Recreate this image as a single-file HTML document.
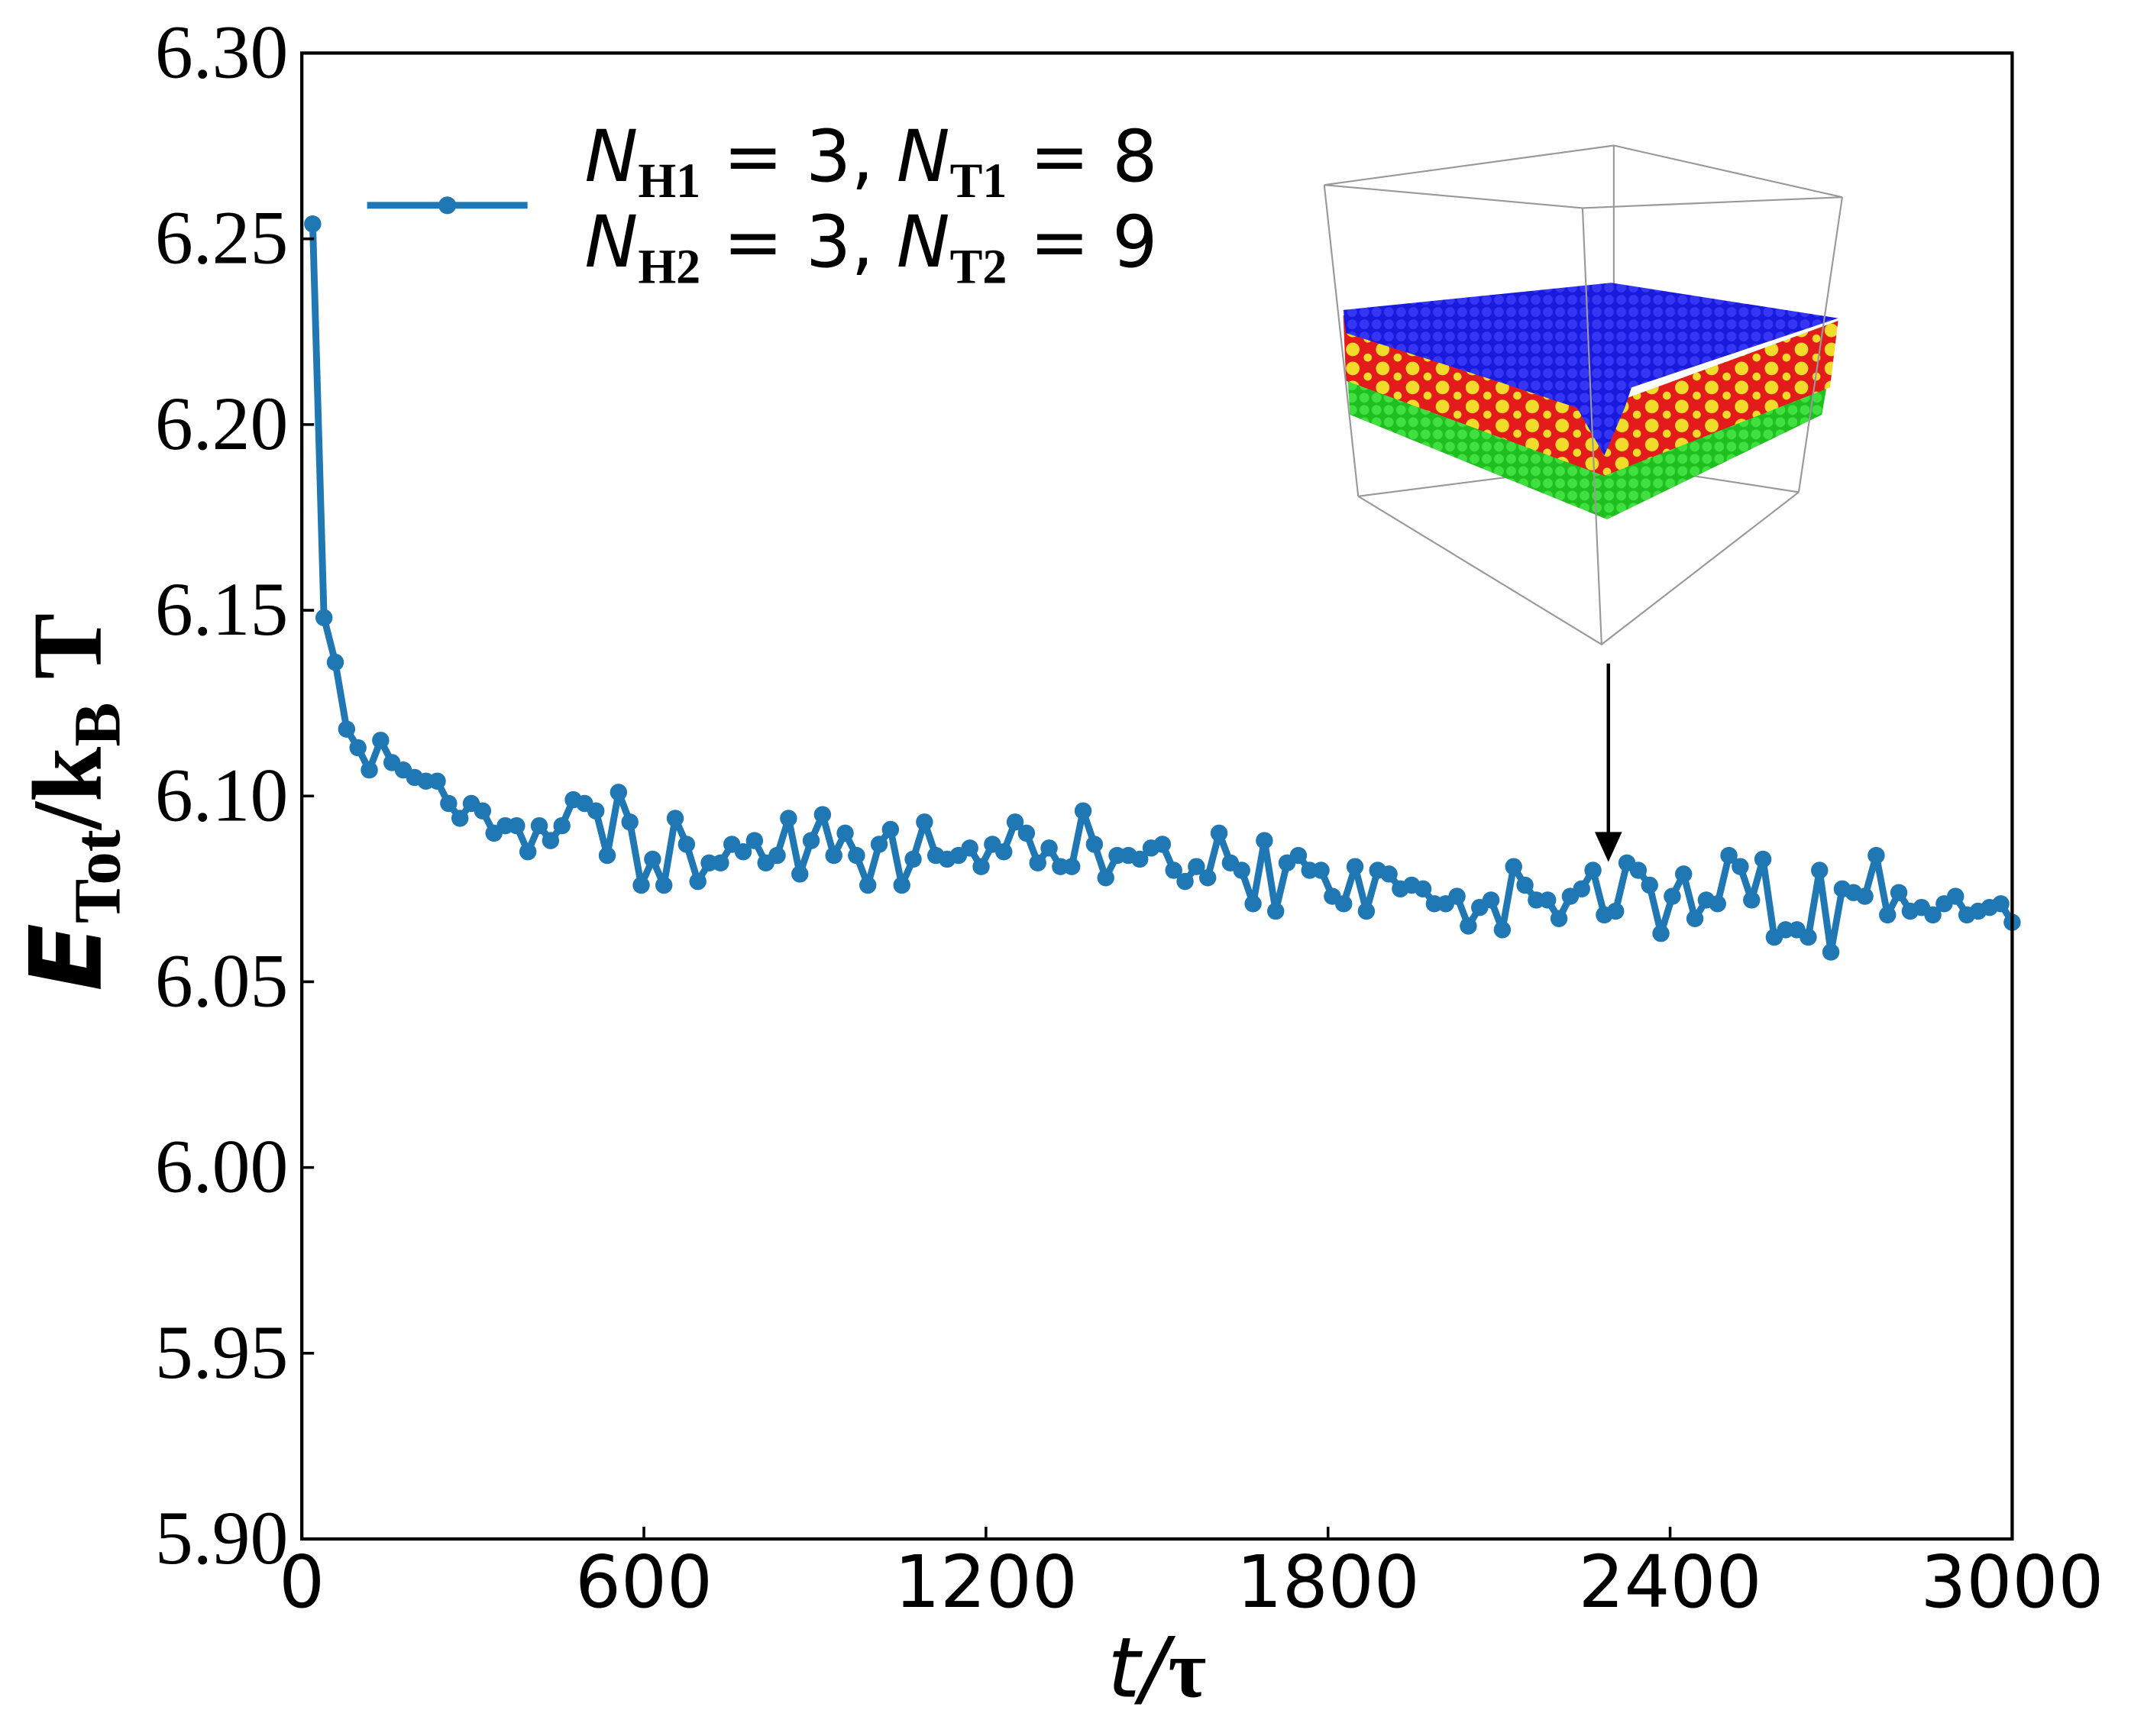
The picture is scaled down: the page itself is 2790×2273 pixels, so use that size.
<!DOCTYPE html>
<html><head><meta charset="utf-8"><style>
html,body{margin:0;padding:0;background:#fff;}
svg{display:block;}
</style></head><body>
<svg id="chart" xmlns="http://www.w3.org/2000/svg" width="2790" height="2273" viewBox="0 0 1567.4 1276.9">
<rect width="1567.4" height="1276.9" fill="#fff"/>
<g id="inset">
  <defs>
    <pattern id="dotsB" width="9" height="9" patternUnits="userSpaceOnUse"><rect width="9" height="9" fill="#1a1adf"/><circle cx="4.5" cy="4.5" r="3.6" fill="#3535f5"/></pattern>
    <pattern id="dotsRY" width="22" height="14" patternUnits="userSpaceOnUse"><rect width="22" height="14" fill="#e41b1b"/><circle cx="5" cy="5" r="5" fill="#f2dc2a"/><circle cx="16" cy="11" r="3" fill="#f2dc2a"/></pattern>
    <pattern id="dotsG" width="9" height="9" patternUnits="userSpaceOnUse"><rect width="9" height="9" fill="#1fbf1f"/><circle cx="4.5" cy="4.5" r="3.6" fill="#3fe03f"/></pattern>
  </defs>
  <g stroke="#999" stroke-width="1.2" fill="none">
    <polyline points="974,136 1187,107 1355,145"/>
    <line x1="1187" y1="107" x2="1187" y2="341"/>
    <line x1="999" y1="365" x2="1187" y2="341"/>
    <line x1="1323" y1="362" x2="1187" y2="341"/>
  </g>
  <polygon points="988,232 1177,300 1352,236 1340,305 1182,382 993,305" fill="url(#dotsG)"/>
  <polygon points="988,232 1177,300 1352,236 1346,285 1180,350 990,280" fill="url(#dotsRY)"/>
  <polygon points="988,228 1185,208 1352,234 1200,285 1195,300 1180,335 1160,300 1100,280 990,245" fill="url(#dotsB)"/>
  <g stroke="#999" stroke-width="1.2" fill="none">
    <polyline points="974,136 1164,153 1355,145"/>
    <line x1="974" y1="136" x2="999" y2="365"/>
    <line x1="1355" y1="145" x2="1323" y2="362"/>
    <polyline points="999,365 1178,474 1323,362"/>
    <line x1="1164" y1="153" x2="1178" y2="474"/>
  </g>
</g>
<g id="arrow">
  <line x1="1183" y1="488" x2="1183" y2="615" stroke="#000" stroke-width="2.5"/>
  <polygon points="1173,612 1193,612 1183,634" fill="#000"/>
</g>
<g id="series"></g>
<rect x="222" y="39" width="1258" height="1093" fill="none" stroke="#000" stroke-width="2.4"/>
<g id="yticks" font-family="Liberation Serif, serif" font-size="56" text-anchor="end"></g>
<g id="xticks" font-family="DejaVu Sans, sans-serif" font-size="53" text-anchor="middle"></g>
<text transform="translate(74,590) rotate(-90)" text-anchor="middle" font-weight="bold" font-size="73" font-family="Liberation Serif, serif"><tspan font-family="DejaVu Sans, sans-serif" font-style="italic">E</tspan><tspan font-size="49" dy="14">Tot</tspan><tspan dy="-14">/k</tspan><tspan font-size="49" dy="14">B</tspan><tspan dy="-14"> T</tspan></text>
<text x="851" y="1248" text-anchor="middle" font-size="61" font-style="italic" font-family="DejaVu Sans, sans-serif">t/<tspan font-family="Liberation Serif, serif" font-weight="bold" font-style="normal">τ</tspan></text>
<g>
  <line x1="270" y1="151" x2="388" y2="151" stroke="#1f77b4" stroke-width="5"/>
  <circle cx="329" cy="151" r="6.5" fill="#1f77b4"/>
  <text x="430" y="133" font-size="52.5" font-family="DejaVu Sans, sans-serif"><tspan font-style="italic">N</tspan><tspan font-family="Liberation Serif, serif" font-weight="bold" font-size="36" dy="12">H1</tspan><tspan dy="-12"> = 3, </tspan><tspan font-style="italic">N</tspan><tspan font-family="Liberation Serif, serif" font-weight="bold" font-size="36" dy="12">T1</tspan><tspan dy="-12"> = 8</tspan></text>
  <text x="430" y="196" font-size="52.5" font-family="DejaVu Sans, sans-serif"><tspan font-style="italic">N</tspan><tspan font-family="Liberation Serif, serif" font-weight="bold" font-size="36" dy="12">H2</tspan><tspan dy="-12"> = 3, </tspan><tspan font-style="italic">N</tspan><tspan font-family="Liberation Serif, serif" font-weight="bold" font-size="36" dy="12">T2</tspan><tspan dy="-12"> = 9</tspan></text>
</g>
<script>
const energyValues = [6.254,6.148,6.136,6.118,6.113,6.107,6.115,6.109,6.107,6.105,
6.104,6.104,6.098,6.094,6.098,6.096,6.090,6.092,6.092,6.085,
6.092,6.088,6.092,6.099,6.098,6.096,6.084,6.101,6.093,6.076,
6.083,6.076,6.094,6.087,6.077,6.082,6.082,6.087,6.085,6.088,
6.082,6.084,6.094,6.079,6.088,6.095,6.084,6.090,6.084,6.076,
6.087,6.091,6.076,6.083,6.093,6.084,6.083,6.084,6.086,6.081,
6.087,6.085,6.093,6.090,6.082,6.086,6.081,6.081,6.096,6.087,
6.078,6.084,6.084,6.083,6.086,6.087,6.080,6.077,6.081,6.078,
6.090,6.082,6.080,6.071,6.088,6.069,6.082,6.084,6.080,6.080,
6.073,6.071,6.081,6.069,6.080,6.079,6.075,6.076,6.075,6.071,
6.071,6.073,6.065,6.070,6.072,6.064,6.081,6.076,6.072,6.072,
6.067,6.073,6.075,6.080,6.068,6.069,6.082,6.080,6.076,6.063,
6.073,6.079,6.067,6.072,6.071,6.084,6.081,6.072,6.083,6.062,
6.064,6.064,6.062,6.080,6.058,6.075,6.074,6.073,6.084,6.068,
6.074,6.069,6.070,6.068,6.071,6.073,6.068,6.069,6.070,6.071,6.066];
const timeStart = 19, timeEnd = 3000;
const yTickLabels = ["5.90","5.95","6.00","6.05","6.10","6.15","6.20","6.25","6.30"];
const xTickLabels = ["0","600","1200","1800","2400","3000"];
const NS = "http://www.w3.org/2000/svg";
const X0=222,X1=1480,Y0=1132,Y1=39;
function xs(t){return X0+(t-0)/(3000-0)*(X1-X0);}
function ys(v){return Y0-(v-5.90)/(6.30-5.90)*(Y0-Y1);}
const n = energyValues.length;
const times = energyValues.map((v,i)=>timeStart+i*(timeEnd-timeStart)/(n-1));
const g = document.getElementById('series');
const pl = document.createElementNS(NS,'polyline');
pl.setAttribute('points', energyValues.map((v,i)=>xs(times[i]).toFixed(1)+','+ys(v).toFixed(1)).join(' '));
pl.setAttribute('fill','none');pl.setAttribute('stroke','#1f77b4');pl.setAttribute('stroke-width','5');pl.setAttribute('stroke-linejoin','round');


g.appendChild(pl);
energyValues.forEach((v,i)=>{
  const c=document.createElementNS(NS,'circle');
  c.setAttribute('cx',xs(times[i]));c.setAttribute('cy',ys(v));c.setAttribute('r','6.3');c.setAttribute('fill','#1f77b4');
  
  
  g.appendChild(c);
});
const yt=document.getElementById('yticks');
yTickLabels.forEach(lab=>{
  const y=ys(parseFloat(lab));
  const l=document.createElementNS(NS,'line');
  l.setAttribute('x1',X0);l.setAttribute('x2',X0+9);l.setAttribute('y1',y);l.setAttribute('y2',y);l.setAttribute('stroke','#000');l.setAttribute('stroke-width','2');
  
  
  yt.appendChild(l);
  const t=document.createElementNS(NS,'text');
  t.setAttribute('x',212);t.setAttribute('y',y+18);t.textContent=lab;
  
  
  yt.appendChild(t);
});
const xt=document.getElementById('xticks');
xTickLabels.forEach(lab=>{
  const x=xs(parseFloat(lab));
  const l=document.createElementNS(NS,'line');
  l.setAttribute('x1',x);l.setAttribute('x2',x);l.setAttribute('y1',Y0);l.setAttribute('y2',Y0-9);l.setAttribute('stroke','#000');l.setAttribute('stroke-width','2');
  
  
  xt.appendChild(l);
  const t=document.createElementNS(NS,'text');
  t.setAttribute('x',x);t.setAttribute('y',1182);t.textContent=lab;
  
  
  xt.appendChild(t);
});
</script>
</svg>
</body></html>
